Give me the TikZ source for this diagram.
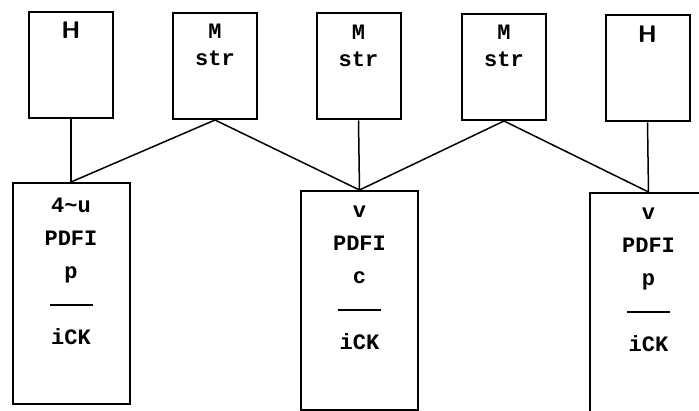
\documentclass[tikz,border=0pt]{standalone}
\usepackage{fontspec}
\usepackage{tikz}
\usetikzlibrary{positioning}
\newfontfamily\boxmono{Liberation Mono}

\tikzset{
  box/.style={draw,line width=2pt,inner sep=0pt},
  topbox/.style={box,minimum width=84pt,minimum height=106pt},
  lowbox/.style={box,minimum width=117pt,minimum height=220pt},
  txt/.style={align=center,inner sep=0pt,font=\boxmono\bfseries\fontsize{22}{33}\selectfont},
  htxt/.style={inner sep=0pt,font=\sffamily\bfseries\fontsize{24}{28}\selectfont},
  wire/.style={line width=1.5pt}
}

\begin{document}
\begin{tikzpicture}[x=1pt,y=-1pt]
                                     \clip (0,0) rectangle (699,411);
                                     \node[topbox](h1)at(71,65){};
                                     \node[topbox](m1)at(215,66){};
                                     \node[topbox](m2)at(358.5,66.5){};
                                     \node[topbox](m3)at(504,67){};
                                     \node[topbox](h2)at(647.5,68.5){};
                                     \node[lowbox,minimum height=221pt](b1)at(71,293.5){};
                                     \node[lowbox,minimum height=219pt](b2)at(359.5,300.5){};
                                     \node[lowbox](b3)at(648.5,303){};
                                     \node[htxt,below=11pt of h1.north](th1){H};
                                     \node[htxt,below=11pt of h2.north](th2){H};
                                     \node[txt,below=12pt of m1.north](tm1){M\\[-6pt]str};
                                     \node[txt,below=12pt of m2.north](tm2){M\\[-6pt]str};
                                     \node[txt,below=12pt of m3.north](tm3){M\\[-6pt]str};
                                     \node[txt,below=16pt of b1.north](tb1){4\textasciitilde u\\PDFI\\p\\\rule[6pt]{43pt}{2pt}\\iCK};
                                     \node[txt,below=16pt of b2.north](tb2){v\\PDFI\\c\\\rule[6pt]{43pt}{2pt}\\iCK};
                                     \node[txt,below=16pt of b3.north](tb3){v\\PDFI\\p\\\rule[6pt]{43pt}{2pt}\\iCK};
                                     \draw[wire] (h1.south)--(b1.north);
                                     \draw[wire] (m1.south)--(b1.north);
                                     \draw[wire] (m1.south)--(b2.north);
                                     \draw[wire] (m2.south)--(b2.north);
                                     \draw[wire] (m3.south)--(b2.north);
                                     \draw[wire] (m3.south)--(b3.north);
                                     \draw[wire] (h2.south)--(b3.north);
                                 \end{tikzpicture}
\end{document}
